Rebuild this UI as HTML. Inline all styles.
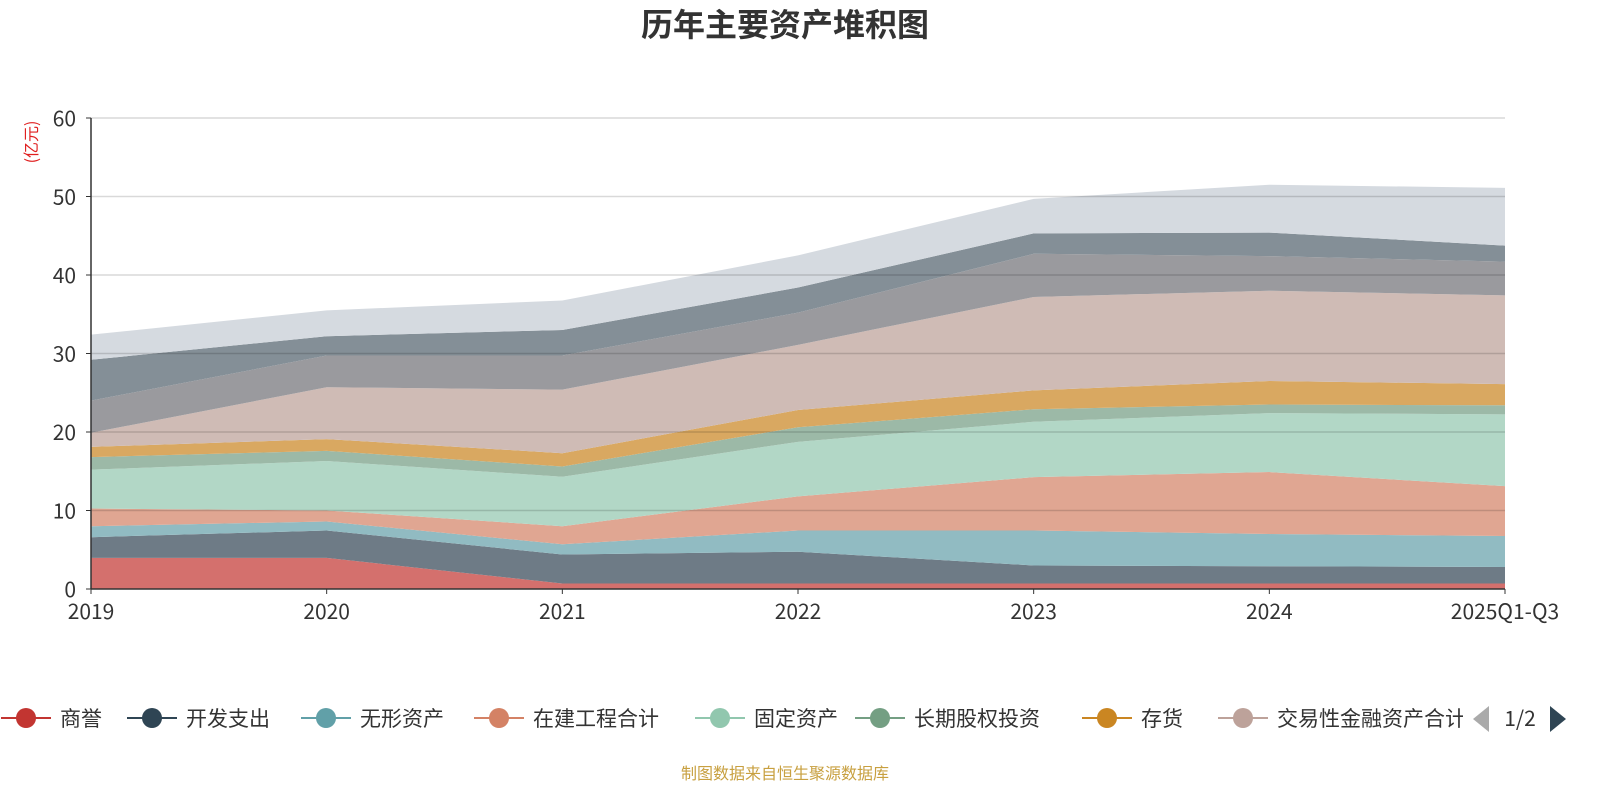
<!DOCTYPE html>
<html><head><meta charset="utf-8"><style>
body{margin:0;background:#fff;width:1600px;height:800px;overflow:hidden;font-family:"Noto Sans CJK SC","Liberation Sans",sans-serif;}
</style></head><body>
<svg id="chart" width="1600" height="800" xmlns="http://www.w3.org/2000/svg" font-family="Noto Sans CJK SC, Liberation Sans, sans-serif">
<text x="785" y="36" text-anchor="middle" font-size="32" font-weight="bold" fill="#333">历年主要资产堆积图</text>
<text transform="translate(37,142) rotate(-90)" text-anchor="middle" font-size="16" fill="#e02020">(亿元)</text>
<g id="areas"></g><g id="grid"></g><g id="axes"></g><g id="legend"></g>
<text x="785" y="779" text-anchor="middle" font-size="16" fill="#c8a040">制图数据来自恒生聚源数据库</text>
</svg>
<script>
const categories=["2019","2020","2021","2022","2023","2024","2025Q1-Q3"];
const seriesNames=["商誉","开发支出","无形资产","在建工程合计","固定资产","长期股权投资","存货","交易性金融资产合计","应收账款","货币资金","其他资产"];
const s0=[3.96,3.96,0.7,0.7,0.7,0.7,0.7];
const s1=[2.64,3.49,3.7,4.05,2.3,2.2,2.1];
const s2=[1.4,1.15,1.3,2.7,4.45,4.1,3.95];
const s3=[2.25,1.4,2.3,4.35,6.8,7.9,6.35];
const s4=[4.95,6.3,6.3,6.95,7.05,7.5,9.15];
const s5=[1.6,1.3,1.3,1.85,1.6,1.1,1.15];
const s6=[1.3,1.5,1.7,2.2,2.4,3.0,2.7];
const s7=[1.8,6.6,8.1,8.3,11.9,11.5,11.3];
const s8=[4.1,4.05,4.35,4.1,5.5,4.4,4.3];
const s9=[5.2,2.45,3.25,3.2,2.6,3.0,2.05];
const s10=[3.2,3.3,3.75,4.1,4.4,6.1,7.35];
const yTicks=[0,10,20,30,40,50,60];
const series=[s0,s1,s2,s3,s4,s5,s6,s7,s8,s9,s10];
const fills=["#d4706d","#6e7b86","#91bbc2","#e0a692","#b2d7c6","#9cb9a7","#d9a861","#cfbbb5","#9a9a9e","#848f97","#d5dae0"];
const legendColors=["#c23531","#2f4554","#61a0a8","#d48265","#91c7ae","#749f83","#ca8622","#bda29a"];
const NS="http://www.w3.org/2000/svg";
const x0=91,x1=1505,yb=589,yt=118;
const X=i=>x0+i*(x1-x0)/(categories.length-1);
const Y=v=>yb-v*(yb-yt)/60;
function mk(t,a,p){const e=document.createElementNS(NS,t);for(const k in a)e.setAttribute(k,a[k]);p.appendChild(e);return e;}
const areas=document.getElementById('areas');
let cum=categories.map(()=>0);
series.forEach((s,k)=>{
  const lo=cum.slice(),hi=cum.map((c,i)=>c+s[i]);
  let d=hi.map((v,i)=>(i?'L':'M')+X(i)+','+Y(v)).join('');
  for(let i=lo.length-1;i>=0;i--)d+='L'+X(i)+','+Y(lo[i]);
  const p=mk('path',{d:d+'Z',fill:fills[k]},areas);
  
  
  cum=hi;
});
const grid=document.getElementById('grid'),axes=document.getElementById('axes');
yTicks.forEach(v=>{
  if(v>0){const l=mk('line',{x1:x0,x2:x1,y1:Y(v),y2:Y(v),stroke:'rgba(0,0,0,0.15)','stroke-width':1.5},grid);
  
  }
  mk('line',{x1:x0-5,x2:x0,y1:Y(v),y2:Y(v),stroke:'#333'},axes);
  const t=mk('text',{x:x0-15,y:Y(v)+8,'text-anchor':'end','font-size':21,fill:'#333'},axes);t.textContent=v;
  
  
});
mk('line',{x1:x0,x2:x0,y1:yt,y2:yb,stroke:'#333','stroke-width':1.5},axes);
mk('line',{x1:x0,x2:x1,y1:yb,y2:yb,stroke:'#333','stroke-width':1.5},axes);
categories.forEach((c,i)=>{
  mk('line',{x1:X(i),x2:X(i),y1:yb,y2:yb+5,stroke:'#333'},axes);
  const t=mk('text',{x:X(i),y:619,'text-anchor':'middle','font-size':21,fill:'#333'},axes);t.textContent=c;
  
  
});
const lg=document.getElementById('legend');
const lgX=[26,152,326,499,720,880,1107,1243];
const clip=mk('clipPath',{id:'lc'},lg);mk('rect',{x:0,y:690,width:1463,height:60},clip);
const lgG=mk('g',{'clip-path':'url(#lc)'},lg);
seriesNames.slice(0,8).forEach((n,k)=>{
  const g=mk('g',{},lgG);
  
  
  const cx=lgX[k];
  mk('line',{x1:cx-25,x2:cx+25,y1:718,y2:718,stroke:legendColors[k],'stroke-width':2},g);
  mk('circle',{cx:cx,cy:718,r:10,fill:legendColors[k]},g);
  const t=mk('text',{x:cx+34,y:726,'font-size':21,fill:'#333'},g);t.textContent=n;
});
const prev=mk('path',{d:'M1489,706 L1473,719 L1489,732 Z',fill:'#aaa'},lg);


const pg=mk('text',{x:1520,y:726,'text-anchor':'middle','font-size':21,fill:'#333'},lg);pg.textContent='1/2';


const nxt=mk('path',{d:'M1550,706 L1566,719 L1550,732 Z',fill:'#2f4554'},lg);


</script>
</body></html>
